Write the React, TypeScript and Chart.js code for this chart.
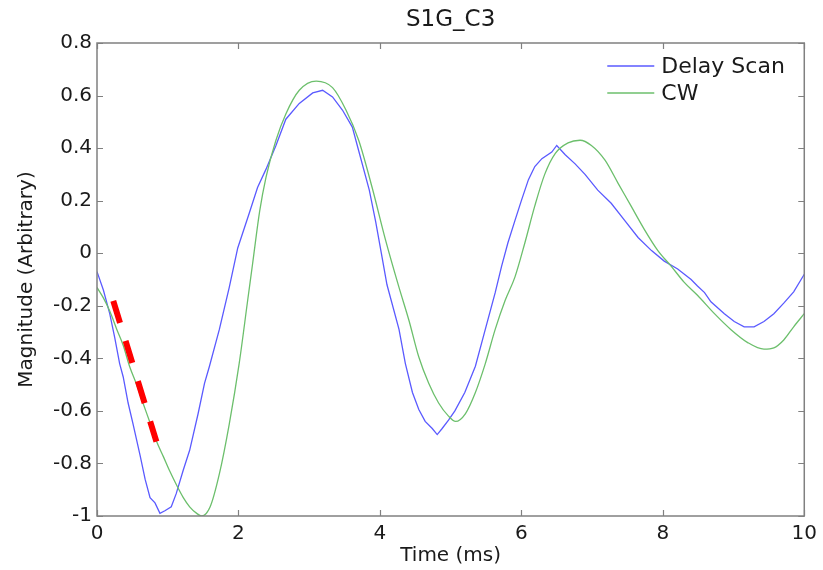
import React, { useEffect, useRef } from "react";
import { Chart, registerables } from "chart.js";

Chart.register(...registerables);

const FONT = "'DejaVu Sans', 'Liberation Sans', sans-serif";
const TITLE = "S1G_C3";
const X_LABEL = "Time (ms)";
const Y_LABEL = "Magnitude (Arbitrary)";
const SERIES_NAMES = ["Delay Scan", "CW"];
const SERIES_COLORS = ["#5a5aff", "#6cbf6c"];
const X_TICKS = [0, 2, 4, 6, 8, 10];
const Y_TICKS = [-1, -0.8, -0.6, -0.4, -0.2, 0, 0.2, 0.4, 0.6, 0.8];

// Delay Scan (blue)
const delayT = [
  0, 0.09, 0.18, 0.25, 0.32, 0.37, 0.44, 0.51, 0.61, 0.68, 0.75, 0.82, 0.89, 0.96,
  1.05, 1.12, 1.22, 1.31, 1.43, 1.52, 1.59, 1.73, 1.87, 1.99, 2.15, 2.27, 2.39,
  2.53, 2.67, 2.86, 3.05, 3.19, 3.33, 3.47, 3.61, 3.7, 3.85, 3.94, 4.02, 4.1,
  4.27, 4.36, 4.46, 4.55, 4.64, 4.74, 4.81, 4.88, 4.97, 5.06, 5.2, 5.35, 5.49,
  5.63, 5.72, 5.81, 5.91, 6.0, 6.1, 6.19, 6.29, 6.43, 6.5, 6.62, 6.76, 6.9,
  7.08, 7.27, 7.46, 7.65, 7.84, 8.02, 8.21, 8.4, 8.49, 8.59, 8.68, 8.87, 9.01,
  9.15, 9.29, 9.43, 9.57, 9.71, 9.85, 10,
];
const delayY = [
  -0.07, -0.14, -0.23, -0.32, -0.42, -0.47, -0.57, -0.65, -0.77, -0.86, -0.93,
  -0.95, -0.99, -0.98, -0.965, -0.915, -0.825, -0.75, -0.61, -0.495, -0.43,
  -0.29, -0.13, 0.02, 0.15, 0.25, 0.32, 0.41, 0.51, 0.57, 0.61, 0.62, 0.595,
  0.545, 0.48, 0.39, 0.24, 0.12, 0.0, -0.12, -0.29, -0.42, -0.53, -0.595, -0.64,
  -0.667, -0.69, -0.667, -0.635, -0.6, -0.53, -0.43, -0.29, -0.15, -0.05, 0.04,
  0.125, 0.2, 0.28, 0.33, 0.36, 0.385, 0.41, 0.375, 0.34, 0.3, 0.24, 0.19, 0.125,
  0.06, 0.01, -0.03, -0.06, -0.1, -0.125, -0.15, -0.185, -0.23, -0.26, -0.28,
  -0.28, -0.26, -0.23, -0.19, -0.147, -0.08,
];

// CW (green)
const cwT = [
  0, 0.09, 0.18, 0.28, 0.37, 0.46, 0.56, 0.65, 0.75, 0.84, 0.94, 1.03, 1.13,
  1.22, 1.31, 1.41, 1.48, 1.6, 1.73, 1.87, 2.01, 2.13, 2.2, 2.3, 2.39, 2.53,
  2.67, 2.86, 3.1, 3.33, 3.52, 3.7, 3.89, 4.08, 4.27, 4.41, 4.55, 4.69, 4.83,
  4.97, 5.07, 5.21, 5.35, 5.49, 5.63, 5.77, 5.91, 6.05, 6.19, 6.33, 6.48, 6.66,
  6.83, 6.99, 7.18, 7.37, 7.55, 7.74, 7.93, 8.12, 8.3, 8.49, 8.73, 8.96, 9.2,
  9.43, 9.57, 9.71, 9.85, 10,
];
const cwY = [
  -0.13, -0.17, -0.22, -0.29, -0.35, -0.43, -0.5, -0.57, -0.645, -0.715, -0.775,
  -0.83, -0.885, -0.93, -0.965, -0.99, -1.0, -0.965, -0.84, -0.65, -0.42,
  -0.18, -0.04, 0.16, 0.29, 0.43, 0.53, 0.62, 0.655, 0.63, 0.545, 0.43, 0.25,
  0.05, -0.13, -0.255, -0.395, -0.495, -0.57, -0.62, -0.64, -0.61, -0.53, -0.42,
  -0.29, -0.18, -0.09, 0.04, 0.18, 0.3, 0.38, 0.42, 0.43, 0.41, 0.355, 0.265,
  0.18, 0.09, 0.01, -0.05, -0.11, -0.16, -0.23, -0.29, -0.34, -0.365, -0.36,
  -0.33, -0.28, -0.23,
];

// Red dashed annotation line
const markerT = [0.23, 0.84];
const markerY = [-0.181, -0.717];

const toPoints = (xs: number[], ys: number[]) => xs.map((x, i) => ({ x, y: ys[i] }));

const framePlugin = {
  id: "frameAndLegend",
  afterDatasetsDraw(chart: any) {
    const { ctx, chartArea, scales } = chart;
    const { left, right, top, bottom } = chartArea;
    const xs = scales.x;
    const ys = scales.y;
    ctx.save();
    ctx.strokeStyle = "#808080";
    ctx.lineWidth = 1.5;
    ctx.strokeRect(left, top, right - left, bottom - top);
    ctx.beginPath();
    const tl = 6;
    xs.ticks.forEach((t: any) => {
      const px = Math.round(xs.getPixelForValue(t.value)) + 0.5;
      ctx.moveTo(px, bottom);
      ctx.lineTo(px, bottom - tl);
      ctx.moveTo(px, top);
      ctx.lineTo(px, top + tl);
    });
    ys.ticks.forEach((t: any) => {
      const py = Math.round(ys.getPixelForValue(t.value)) + 0.5;
      ctx.moveTo(left, py);
      ctx.lineTo(left + tl, py);
      ctx.moveTo(right, py);
      ctx.lineTo(right - tl, py);
    });
    ctx.lineWidth = 1.2;
    ctx.stroke();

    // Title
    ctx.fillStyle = "#1a1a1a";
    ctx.font = `23px ${FONT}`;
    ctx.textAlign = "center";
    ctx.textBaseline = "middle";
    ctx.fillText(TITLE, (left + right) / 2, 20);

    // Legend
    ctx.font = `22px ${FONT}`;
    ctx.textAlign = "left";
    const legendX = right - 197;
    const legendY0 = top + 23;
    const rowH = 27;
    chart.data.datasets.slice(0, 2).forEach((ds: any, i: number) => {
      const cy = legendY0 + i * rowH;
      ctx.strokeStyle = ds.borderColor;
      ctx.lineWidth = 1.3;
      ctx.setLineDash([]);
      ctx.beginPath();
      ctx.moveTo(legendX, cy);
      ctx.lineTo(legendX + 47, cy);
      ctx.stroke();
      ctx.fillStyle = "#1a1a1a";
      ctx.fillText(ds.label, legendX + 54, cy + 1);
    });
    ctx.restore();
  },
};

export default function App() {
  const canvasRef = useRef<HTMLCanvasElement | null>(null);

  useEffect(() => {
    document.body.style.margin = "0";
    const canvas = canvasRef.current;
    if (!canvas) return;
    const chart = new Chart(canvas, {
      type: "line",
      data: {
        datasets: [
          {
            label: SERIES_NAMES[0],
            data: toPoints(delayT, delayY),
            borderColor: SERIES_COLORS[0],
            borderWidth: 1.3,
            pointRadius: 0,
            tension: 0,
            order: 2,
          },
          {
            label: SERIES_NAMES[1],
            data: toPoints(cwT, cwY),
            borderColor: SERIES_COLORS[1],
            borderWidth: 1.3,
            pointRadius: 0,
            cubicInterpolationMode: "monotone",
            order: 1,
          },
          {
            label: "marker",
            data: toPoints(markerT, markerY),
            borderColor: "#ff0000",
            borderWidth: 6,
            borderDash: [23, 19],
            borderCapStyle: "butt",
            pointRadius: 0,
            order: 0,
          },
        ],
      },
      options: {
        animation: false,
        responsive: true,
        maintainAspectRatio: false,
        layout: { padding: { top: 43, right: 16, bottom: 0, left: 0 } },
        plugins: {
          legend: { display: false },
          title: { display: false },
          tooltip: { enabled: false },
        },
        scales: {
          x: {
            type: "linear",
            min: 0,
            max: 10,
            grid: { display: false, drawTicks: false },
            border: { display: false },
            afterBuildTicks: (s: any) => {
              s.ticks = X_TICKS.map((v) => ({ value: v }));
            },
            afterFit: (s: any) => {
              s.height = 54;
            },
            ticks: {
              padding: 6,
              color: "#1a1a1a",
              font: { family: FONT, size: 20 },
              maxRotation: 0,
              callback: (v: any) => String(v),
            },
            title: {
              display: true,
              text: X_LABEL,
              color: "#1a1a1a",
              font: { family: FONT, size: 20 },
              padding: { top: 0, bottom: 2 },
            },
          },
          y: {
            type: "linear",
            min: -1,
            max: 0.8,
            grid: { display: false, drawTicks: false },
            border: { display: false },
            afterBuildTicks: (s: any) => {
              s.ticks = Y_TICKS.map((v) => ({ value: v }));
            },
            afterFit: (s: any) => {
              s.width = 97;
            },
            ticks: {
              padding: 5,
              color: "#1a1a1a",
              font: { family: FONT, size: 20 },
              callback: (v: any) => String(Math.round(Number(v) * 10) / 10),
            },
            title: {
              display: true,
              text: Y_LABEL,
              color: "#1a1a1a",
              font: { family: FONT, size: 20 },
              padding: { top: 15, bottom: 0 },
            },
          },
        },
      },
      plugins: [framePlugin],
    });
    return () => chart.destroy();
  }, []);

  return (
    <div
      style={{
        position: "fixed",
        left: 0,
        top: 0,
        width: "823px",
        height: "570px",
        background: "#ffffff",
      }}
    >
      <canvas ref={canvasRef} style={{ display: "block" }} />
    </div>
  );
}
